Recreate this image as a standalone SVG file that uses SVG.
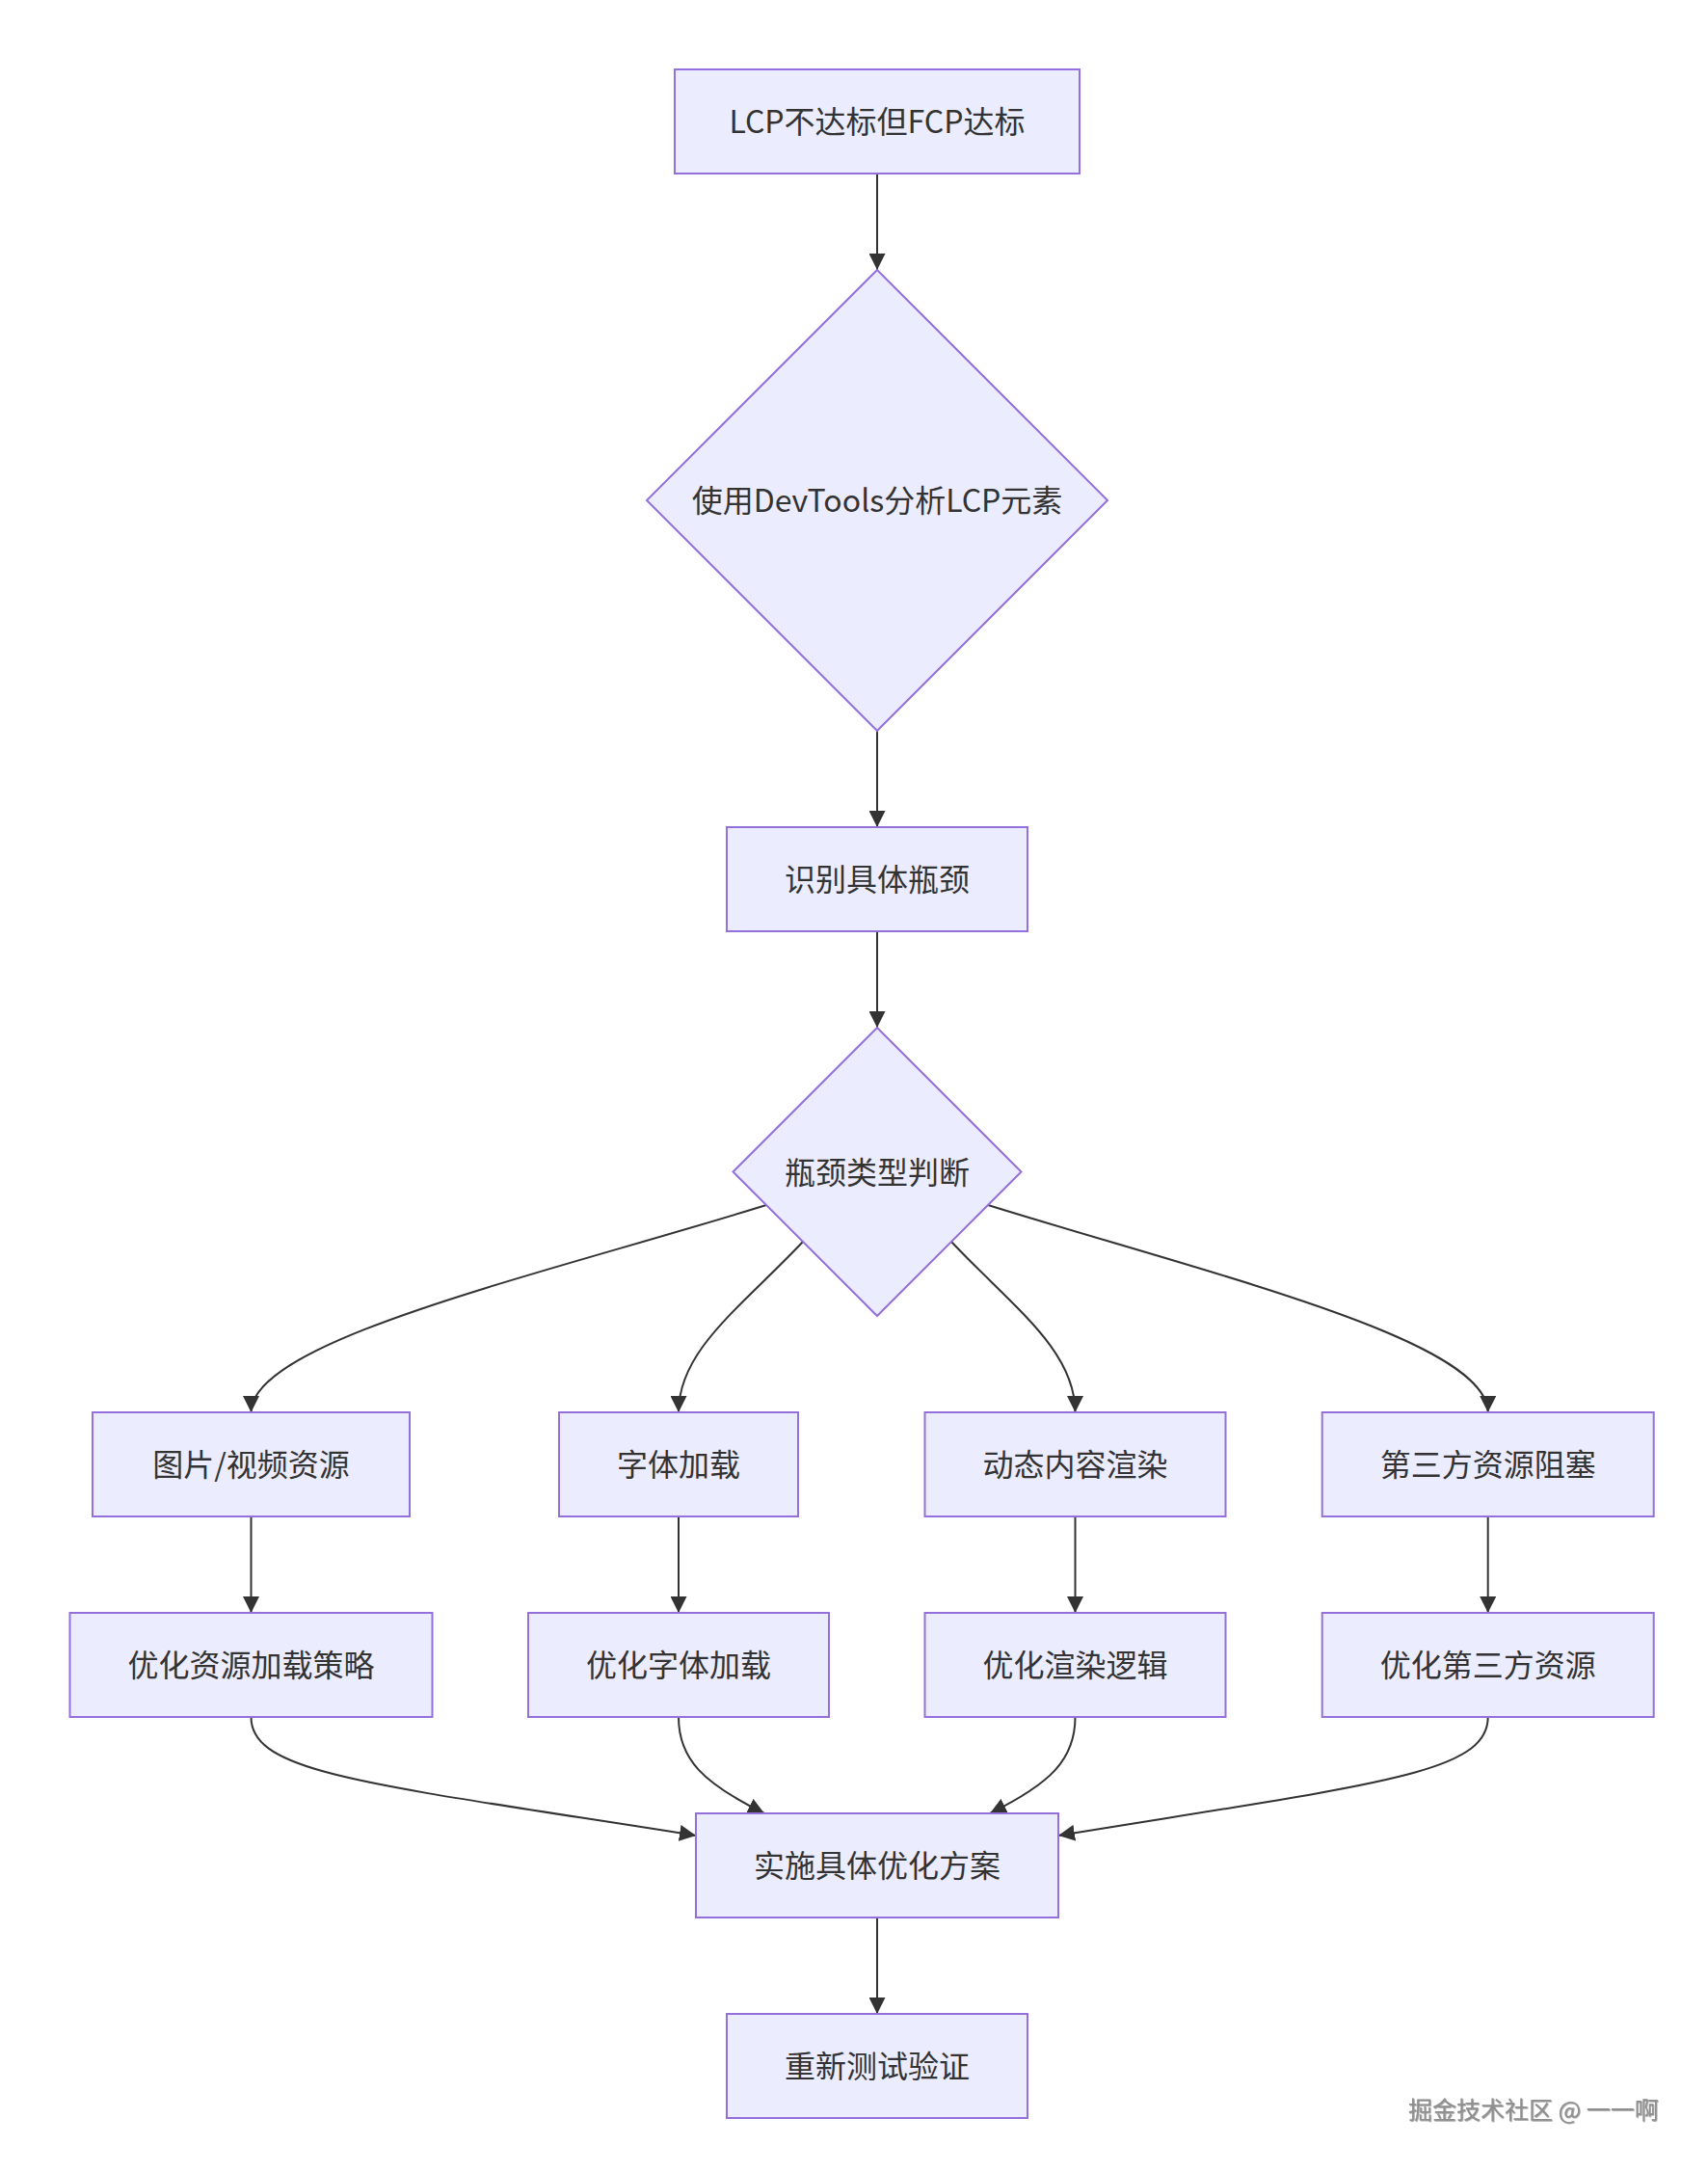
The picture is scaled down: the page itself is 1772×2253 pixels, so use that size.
<svg xmlns="http://www.w3.org/2000/svg" width="1772" height="2253" viewBox="0 0 1772 2253">
<style>
.node rect, .node polygon { fill: #ECECFF; stroke: #9370DB; stroke-width: 2; }
.node text { font-family: "Noto Sans CJK SC", "Noto Sans", sans-serif; font-size: 32px; fill: #333333; text-anchor: middle; dominant-baseline: central; }
.edges path { fill: none; stroke: #333333; stroke-width: 2; marker-end: url(#arrow); }
.wm { font-family: "Noto Sans CJK SC", sans-serif; font-size: 25px; fill: #8f8f8f; }
</style>
<defs>
<marker id="arrow" viewBox="0 0 10 10" refX="10" refY="5" markerUnits="userSpaceOnUse" markerWidth="17" markerHeight="17" orient="auto">
<path d="M0,0 L10,5 L0,10 z" fill="#333333"/>
</marker>
<filter id="emboss" x="-5%" y="-20%" width="110%" height="140%">
<feDropShadow dx="0.8" dy="0.8" stdDeviation="0.4" flood-color="#555555" flood-opacity="0.6"/>
</filter>
</defs>
<rect width="1772" height="2253" fill="#ffffff"/>
<g class="edges">
<path d="M910,180 L910,280"/>
<path d="M910,758 L910,858"/>
<path d="M910,966 L910,1066"/>
<path d="M795,1250 C560,1323 260.5,1390 260.5,1465"/>
<path d="M833,1288 C770,1355 704,1400 704,1465"/>
<path d="M987,1288 C1050,1355 1115.5,1400 1115.5,1465"/>
<path d="M1025,1250 C1260,1323 1543.7,1390 1543.7,1465"/>
<path d="M260.5,1573 L260.5,1673"/>
<path d="M704,1573 L704,1673"/>
<path d="M1115.5,1573 L1115.5,1673"/>
<path d="M1543.7,1573 L1543.7,1673"/>
<path d="M260.5,1781 C260.5,1840 380,1850 722,1904"/>
<path d="M704,1781 C704,1825 730,1850 793,1881"/>
<path d="M1115.5,1781 C1115.5,1825 1090,1850 1027,1881"/>
<path d="M1543.7,1781 C1543.7,1840 1430,1850 1098,1904"/>
<path d="M910,1989 L910,2089"/>
</g>
<g id="n1" class="node"><rect x="700" y="72" width="420" height="108"/><text x="910" y="124">LCP不达标但FCP达标</text></g>
<g id="n2" class="node"><polygon points="910,280 1149,519 910,758 671,519"/><text x="910" y="517">使用DevTools分析LCP元素</text></g>
<g id="n3" class="node"><rect x="754" y="858" width="312" height="108"/><text x="910" y="910">识别具体瓶颈</text></g>
<g id="n4" class="node"><polygon points="910,1066 1059.5,1215.5 910,1365 760.5,1215.5"/><text x="910" y="1213.5">瓶颈类型判断</text></g>
<g id="n5" class="node"><rect x="96" y="1465" width="329" height="108"/><text x="260.5" y="1517">图片/视频资源</text></g>
<g id="n6" class="node"><rect x="580" y="1465" width="248" height="108"/><text x="704" y="1517">字体加载</text></g>
<g id="n7" class="node"><rect x="959.5" y="1465" width="312" height="108"/><text x="1115.5" y="1517">动态内容渲染</text></g>
<g id="n8" class="node"><rect x="1371.7" y="1465" width="344" height="108"/><text x="1543.7" y="1517">第三方资源阻塞</text></g>
<g id="n9" class="node"><rect x="72.5" y="1673" width="376" height="108"/><text x="260.5" y="1725">优化资源加载策略</text></g>
<g id="n10" class="node"><rect x="548" y="1673" width="312" height="108"/><text x="704" y="1725">优化字体加载</text></g>
<g id="n11" class="node"><rect x="959.5" y="1673" width="312" height="108"/><text x="1115.5" y="1725">优化渲染逻辑</text></g>
<g id="n12" class="node"><rect x="1371.7" y="1673" width="344" height="108"/><text x="1543.7" y="1725">优化第三方资源</text></g>
<g id="n13" class="node"><rect x="722" y="1881" width="376" height="108"/><text x="910" y="1933">实施具体优化方案</text></g>
<g id="n14" class="node"><rect x="754" y="2089" width="312" height="108"/><text x="910" y="2141">重新测试验证</text></g>
<text class="wm" x="1461" y="2198" filter="url(#emboss)">掘金技术社区 @ 一一啊</text>
</svg>
